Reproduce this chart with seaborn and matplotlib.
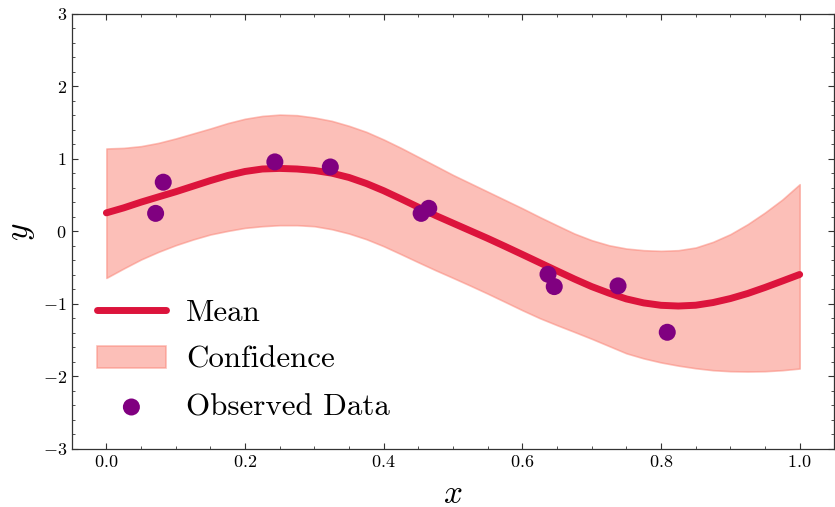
import numpy as np
import pandas as pd
import matplotlib
matplotlib.use("Agg")
import matplotlib.pyplot as plt
from matplotlib.ticker import MultipleLocator
import seaborn as sns

# Observed samples
obs_x = [0.071, 0.082, 0.243, 0.323, 0.454, 0.465, 0.637, 0.646, 0.738, 0.809]
obs_y = [0.25, 0.68, 0.96, 0.89, 0.25, 0.32, -0.59, -0.76, -0.75, -1.39]

# Predictive mean and confidence bounds on a grid
grid_x = [0.000, 0.025, 0.050, 0.075, 0.100, 0.125, 0.150, 0.175, 0.200, 0.225,
          0.250, 0.275, 0.300, 0.325, 0.350, 0.375, 0.400, 0.425, 0.450, 0.475,
          0.500, 0.525, 0.550, 0.575, 0.600, 0.625, 0.650, 0.675, 0.700, 0.725,
          0.750, 0.775, 0.800, 0.825, 0.850, 0.875, 0.900, 0.925, 0.950, 0.975,
          1.000]
mean_y = [0.257, 0.326, 0.405, 0.477, 0.548, 0.625, 0.702, 0.772, 0.828, 0.862,
          0.870, 0.862, 0.842, 0.805, 0.745, 0.662, 0.562, 0.450, 0.335, 0.220,
          0.115, 0.010, -0.095, -0.205, -0.317, -0.430, -0.543, -0.655, -0.760, -0.850,
          -0.930, -0.985, -1.018, -1.028, -1.017, -0.980, -0.925, -0.855, -0.772, -0.683,
          -0.593]
upper_y = [1.145, 1.153, 1.177, 1.222, 1.283, 1.352, 1.421, 1.495, 1.555, 1.594,
           1.612, 1.604, 1.572, 1.526, 1.457, 1.374, 1.269, 1.153, 1.029, 0.905,
           0.780, 0.665, 0.550, 0.435, 0.320, 0.200, 0.085, -0.028, -0.120, -0.190,
           -0.235, -0.258, -0.267, -0.258, -0.221, -0.143, -0.037, 0.101, 0.262, 0.441,
           0.652]
lower_y = [-0.640, -0.510, -0.386, -0.281, -0.189, -0.110, -0.041, 0.008, 0.050, 0.073,
           0.087, 0.087, 0.073, 0.032, -0.028, -0.106, -0.203, -0.313, -0.425, -0.535,
           -0.640, -0.747, -0.857, -0.971, -1.086, -1.195, -1.292, -1.385, -1.480, -1.580,
           -1.680, -1.750, -1.806, -1.850, -1.886, -1.913, -1.927, -1.931, -1.927, -1.913,
           -1.890]

sns.set_style("ticks")
plt.rcParams.update({
    "font.family": "cmr10",
    "mathtext.fontset": "cm",
    "axes.formatter.use_mathtext": True,
    "axes.unicode_minus": True,
    "text.color": "black",
    "axes.labelcolor": "black",
    "xtick.direction": "in",
    "ytick.direction": "in",
    "xtick.top": True,
    "ytick.right": True,
    "xtick.major.size": 4,
    "ytick.major.size": 4,
    "xtick.minor.size": 2,
    "ytick.minor.size": 2,
    "xtick.major.width": 0.8,
    "ytick.major.width": 0.8,
    "xtick.minor.width": 0.6,
    "ytick.minor.width": 0.6,
    "axes.linewidth": 0.9,
    "axes.edgecolor": "#333333",
})

fig = plt.figure(figsize=(8.35, 5.07), dpi=100)
ax = fig.add_axes([0.0859, 0.1144, 0.9133, 0.858])

ax.fill_between(grid_x, lower_y, upper_y, color="salmon", alpha=0.5,
                linewidth=1.2, label="Confidence", zorder=1)
sns.lineplot(x=grid_x, y=mean_y, ax=ax, color="crimson", linewidth=5,
             label="Mean", zorder=2)
sns.scatterplot(x=obs_x, y=obs_y, ax=ax, color="purple", s=150,
                edgecolor="none", label="Observed Data", zorder=3)

ax.set_xlim(-0.05, 1.05)
ax.set_ylim(-3, 3)
ax.xaxis.set_major_locator(MultipleLocator(0.2))
ax.xaxis.set_minor_locator(MultipleLocator(0.05))
ax.yaxis.set_major_locator(MultipleLocator(1))
ax.yaxis.set_minor_locator(MultipleLocator(0.2))
ax.tick_params(which="both", top=True, right=True, direction="in",
               labelsize=13, colors="#333333", labelcolor="black")

ax.set_xlabel("$x$", fontsize=24, labelpad=7)
ax.set_ylabel("$y$", fontsize=24, labelpad=4)

handles, labels = ax.get_legend_handles_labels()
order = [labels.index(n) for n in ["Mean", "Confidence", "Observed Data"]]
leg = ax.legend([handles[i] for i in order], [labels[i] for i in order],
                loc="lower left", frameon=False, fontsize=22.3,
                bbox_to_anchor=(-0.004, 0.0), handlelength=2.25,
                handletextpad=0.65, labelspacing=0.62)
for t in leg.get_texts():
    t.set_color("black")

fig.savefig("out.png", dpi=100)
